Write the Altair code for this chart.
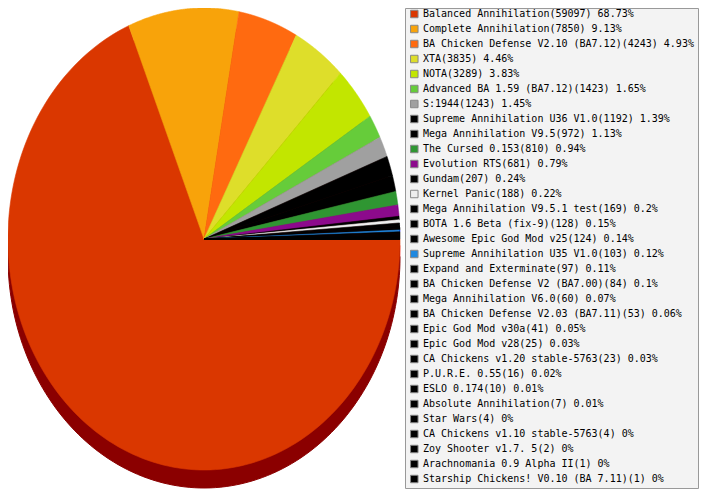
import altair as alt
import pandas as pd

names = [
    "Balanced Annihilation", "Complete Annihilation", "BA Chicken Defense V2.10 (BA7.12)",
    "XTA", "NOTA", "Advanced BA 1.59 (BA7.12)", "S:1944", "Supreme Annihilation U36 V1.0",
    "Mega Annihilation V9.5", "The Cursed 0.153", "Evolution RTS", "Gundam", "Kernel Panic",
    "Mega Annihilation V9.5.1 test", "BOTA 1.6 Beta (fix-9)", "Awesome Epic God Mod v25",
    "Supreme Annihilation U35 V1.0", "Expand and Exterminate", "BA Chicken Defense V2 (BA7.00)",
    "Mega Annihilation V6.0", "BA Chicken Defense V2.03 (BA7.11)", "Epic God Mod v30a",
    "Epic God Mod v28", "CA Chickens v1.20 stable-5763", "P.U.R.E. 0.55", "ESLO 0.174",
    "Absolute Annihilation", "Star Wars", "CA Chickens v1.10 stable-5763", "Zoy Shooter v1.7. 5",
    "Arachnomania 0.9 Alpha II", "Starship Chickens! V0.10 (BA 7.11)",
]
counts = [59097, 7850, 4243, 3835, 3289, 1423, 1243, 1192, 972, 810, 681, 207, 188, 169, 128,
          124, 103, 97, 84, 60, 53, 41, 25, 23, 16, 10, 7, 4, 4, 2, 1, 1]
pcts = ["68.73%", "9.13%", "4.93%", "4.46%", "3.83%", "1.65%", "1.45%", "1.39%", "1.13%",
        "0.94%", "0.79%", "0.24%", "0.22%", "0.2%", "0.15%", "0.14%", "0.12%", "0.11%", "0.1%",
        "0.07%", "0.06%", "0.05%", "0.03%", "0.03%", "0.02%", "0.01%", "0.01%", "0%", "0%",
        "0%", "0%", "0%"]
colors = ["#DA3700", "#F8A30A", "#FF6A10", "#DEDE2A", "#C2E600", "#66CC3A", "#A0A0A0",
          "#000000", "#000000", "#2F9632", "#8C0A8C", "#000000", "#EEEEEE", "#000000",
          "#000000", "#000000", "#1E88E0", "#000000", "#000000", "#000000", "#000000",
          "#000000", "#000000", "#000000", "#000000", "#000000", "#000000", "#000000",
          "#000000", "#000000", "#000000", "#000000"]

labels = [f"{n}({c}) {p}" for n, c, p in zip(names, counts, pcts)]
df = pd.DataFrame({"idx": list(range(len(names))), "name": names, "count": counts, "label": labels})

W, H = 691, 482
RX, RY = 196, 231
SHADOW = 18
N = 160

xs = alt.Scale(domain=[-1, -1 + 2 * W / (2 * RX)], range=[0, W], nice=False, zero=False)
ys = alt.Scale(domain=[1 - H / RY, 1], nice=False, zero=False)
cscale = alt.Scale(domain=labels, range=colors)

base = alt.Chart(df).transform_joinaggregate(
    total="sum(count)"
).transform_window(
    cum="sum(count)", sort=[alt.SortField("idx")], frame=[None, 0]
).transform_calculate(
    a0="PI/2 + 2*PI*(datum.cum - datum.count)/datum.total",
    a1="PI/2 + 2*PI*datum.cum/datum.total",
    ks=f"sequence(0, {N + 3})",
).transform_flatten(
    ["ks"], as_=["k"]
).transform_calculate(
    r=f"(datum.k == 0 || datum.k == {N + 2}) ? 0 : 1",
    a=f"datum.a0 + (datum.a1 - datum.a0) * clamp(datum.k - 1, 0, {N}) / {N}",
).transform_calculate(
    px="datum.r * sin(datum.a)",
    py="datum.r * cos(datum.a)",
    pys=f"datum.r * cos(datum.a) - {SHADOW / RY}",
)

shadow = base.mark_line(fill="#8B0000", stroke="#8B0000", strokeWidth=1).encode(
    x=alt.X("px:Q", scale=xs, axis=None),
    y=alt.Y("pys:Q", scale=ys, axis=None),
    detail="name:N",
    order=alt.Order("k:Q"),
)

slices = base.mark_line(strokeWidth=0.6).encode(
    x=alt.X("px:Q", scale=xs, axis=None),
    y=alt.Y("py:Q", scale=ys, axis=None),
    fill=alt.Fill("label:N", scale=cscale, legend=None),
    stroke=alt.Stroke("label:N", scale=cscale, legend=None),
    order=alt.Order("k:Q"),
)

box = alt.Chart(pd.DataFrame({"a": [0]})).mark_rect(
    fill="#F3F3F3", stroke="#999999", strokeWidth=1
).encode(
    x=alt.value(397.5), x2=alt.value(690.5), y=alt.value(0.5), y2=alt.value(480.5)
)

rows = alt.Scale(type="point", domain=list(range(len(names))), range=[6, 471], padding=0)

swatches = alt.Chart(df).mark_square(
    size=56, opacity=1, stroke="#888888", strokeWidth=1
).encode(
    x=alt.value(406.3),
    y=alt.Y("idx:O", scale=rows, axis=None),
    fill=alt.Fill("label:N", scale=cscale, legend=None),
)

texts = alt.Chart(df).mark_text(
    align="left", baseline="middle", font="DejaVu Sans Mono", fontSize=10, color="#000000"
).encode(
    x=alt.value(415),
    y=alt.Y("idx:O", scale=rows, axis=None),
    text="label:N",
)

chart = alt.layer(shadow, slices, box, swatches, texts).resolve_scale(
    y="independent"
).properties(
    width=W, height=H, padding=0,
    autosize=alt.AutoSizeParams(type="none"),
).configure_view(strokeWidth=0)

chart.save("out.html", embed_options={"renderer": "svg", "actions": False})
